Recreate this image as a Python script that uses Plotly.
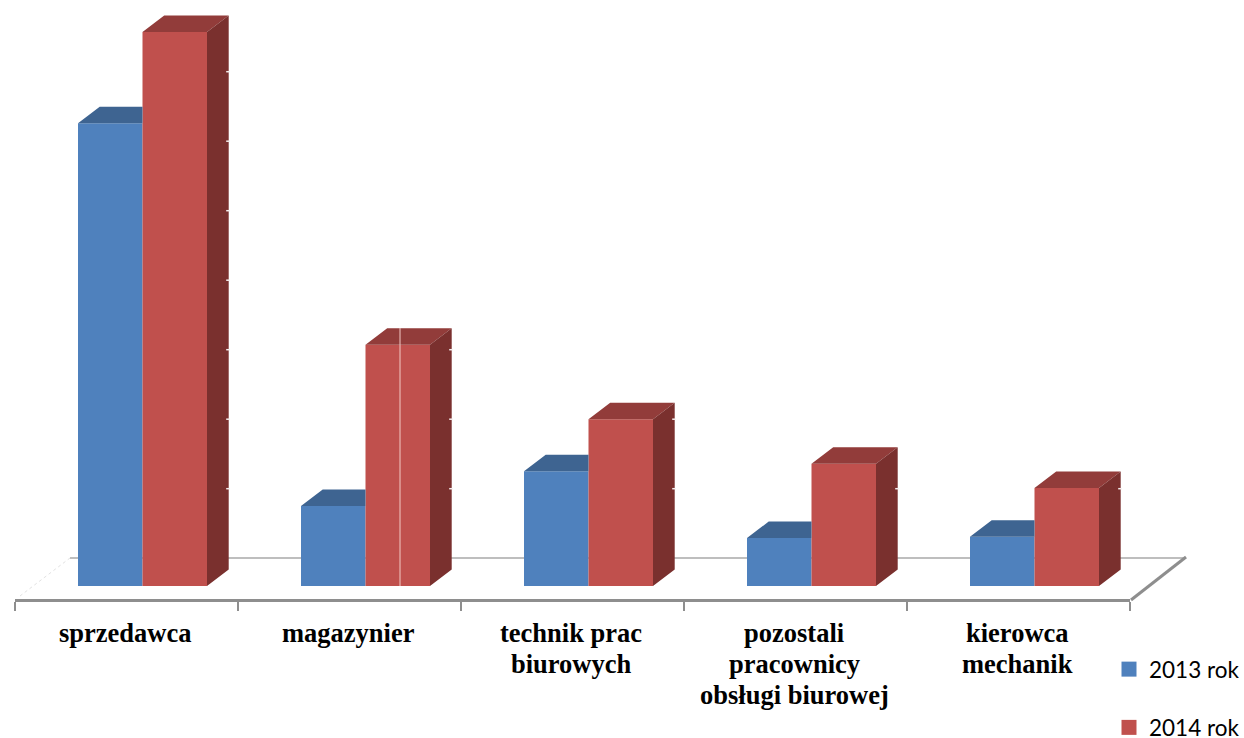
import plotly.graph_objects as go

category_lines = [
    ["sprzedawca"],
    ["magazynier"],
    ["technik prac", "biurowych"],
    ["pozostali", "pracownicy", "obsługi biurowej"],
    ["kierowca", "mechanik"],
]
series_2013 = [66.6, 11.5, 16.5, 6.9, 7.1]
series_2014 = [79.7, 34.7, 24.0, 17.6, 14.1]
series_names = ["2013 rok", "2014 rok"]
wall_grid = [14, 24, 34, 44, 54, 64, 74]

W, H = 1244, 738
PX_PER_CAT = 223.0
PX_PER_UNIT = 6.95
BASE_PX = 586.0
BAR_W = 64.5 / PX_PER_CAT
LEFT_OFF = (78 - 126.5) / PX_PER_CAT
DX = 21.7 / PX_PER_CAT
DY = 16.5 / PX_PER_UNIT

BLUE, BLUE_TOP = "#4F81BD", "#3E6491"
RED, RED_TOP, RED_SIDE = "#C0504D", "#923C3A", "#7A302E"
GREY, GREY_LIGHT = "#8E8E8E", "#BEBEBE"
xs = list(range(len(category_lines)))


def px(x):
    return x / W


def py(y):
    return 1 - y / H


def polys(shapes):
    ox, oy = [], []
    for s in shapes:
        ox += [p[0] for p in s] + [None]
        oy += [p[1] for p in s] + [None]
    return ox, oy


fig = go.Figure()
for name, vals, color, off in [
    (series_names[0], series_2013, BLUE, LEFT_OFF),
    (series_names[1], series_2014, RED, LEFT_OFF + BAR_W),
]:
    fig.add_trace(go.Bar(x=xs, y=vals, width=BAR_W, offset=off, name=name,
                         marker=dict(color=color, line=dict(width=0)),
                         showlegend=False, cliponaxis=False))

# blue tops are cut where the taller red front face begins
blue_top = polys([[(i + LEFT_OFF, v), (i + LEFT_OFF + BAR_W, v), (i + LEFT_OFF + BAR_W, v + DY),
                   (i + LEFT_OFF + DX, v + DY)] for i, v in zip(xs, series_2013)])
red_l = LEFT_OFF + BAR_W
red_top = polys([[(i + red_l, v), (i + red_l + BAR_W, v), (i + red_l + BAR_W + DX, v + DY),
                  (i + red_l + DX, v + DY)] for i, v in zip(xs, series_2014)])
red_side = polys([[(i + red_l + BAR_W, 0), (i + red_l + BAR_W + DX, DY), (i + red_l + BAR_W + DX, v + DY),
                   (i + red_l + BAR_W, v)] for i, v in zip(xs, series_2014)])
for (ox, oy), col in [(blue_top, BLUE_TOP), (red_top, RED_TOP), (red_side, RED_SIDE)]:
    fig.add_trace(go.Scatter(x=ox, y=oy, mode="lines", fill="toself", fillcolor=col,
                             line=dict(width=0), hoverinfo="skip", showlegend=False,
                             cliponaxis=False))

# faint wall gridlines showing at the back edge of the red side faces
gx, gy = [], []
for i, v in zip(xs, series_2014):
    edge = i + red_l + BAR_W + DX
    for g in wall_grid:
        if g < v + DY:
            gx += [edge - 2.5 / PX_PER_CAT, edge + 1 / PX_PER_CAT, None]
            gy += [g, g, None]
fig.add_trace(go.Scatter(x=gx, y=gy, mode="lines", line=dict(color="#F4EDED", width=1.5),
                         hoverinfo="skip", showlegend=False, cliponaxis=False))

# legend entries
for i, (name, color) in enumerate(zip(series_names, [BLUE, RED])):
    fig.add_trace(go.Scatter(x=[0], y=[None], mode="markers", name=name, legendgroup=name,
                             marker=dict(symbol="square", size=15, color=color)))

shapes = [
    dict(type="line", xref="paper", yref="paper", x0=px(70), x1=px(1186), y0=py(558), y1=py(558),
         line=dict(color=GREY_LIGHT, width=2), layer="below"),
    dict(type="line", xref="paper", yref="paper", x0=px(1131), x1=px(1186), y0=py(600), y1=py(557),
         line=dict(color=GREY, width=3), layer="below"),
    dict(type="line", xref="paper", yref="paper", x0=px(20), x1=px(70), y0=py(596), y1=py(558),
         line=dict(color="#E2E2E2", width=1, dash="dot"), layer="below"),
    dict(type="line", xref="paper", yref="paper", x0=px(400), x1=px(400), y0=py(328), y1=py(586),
         line=dict(color="#F2C9C5", width=1), layer="above"),
]

annotations = []
for i, lines in enumerate(category_lines):
    for j, line in enumerate(lines):
        annotations.append(dict(x=i - (1.5 / PX_PER_CAT), xref="x", y=py(633 + 31 * j), yref="paper",
                                text=f"<b>{line}</b>", showarrow=False, xanchor="center", yanchor="middle",
                                font=dict(family="Liberation Serif", size=26.5, color="#000000")))

fig.update_layout(
    width=W, height=H, margin=dict(l=0, r=0, t=0, b=0, autoexpand=False),
    paper_bgcolor="white", plot_bgcolor="white",
    barmode="overlay", shapes=shapes, annotations=annotations,
    xaxis=dict(domain=[px(15), px(1130)], range=[-0.5, 4.5], anchor="free", position=py(600),
               showgrid=False, zeroline=False, showline=True, linecolor=GREY, linewidth=3,
               ticks="outside", ticklen=9, tickwidth=2, tickcolor=GREY,
               tickvals=[v - 0.5 for v in xs + [len(xs)]], showticklabels=False),
    yaxis=dict(domain=[0, 1], range=[(BASE_PX - H) / PX_PER_UNIT, BASE_PX / PX_PER_UNIT],
               visible=False, showgrid=False, zeroline=False),
    legend=dict(x=px(1109), y=py(648), xanchor="left", yanchor="top", bgcolor="rgba(0,0,0,0)",
                tracegroupgap=26, itemwidth=30,
                font=dict(family="Lato", size=22.5, color="#000000")),
    showlegend=True,
)

fig.write_html("out.html", post_script="document.body.style.margin='0';",
               config=dict(displayModeBar=False))
